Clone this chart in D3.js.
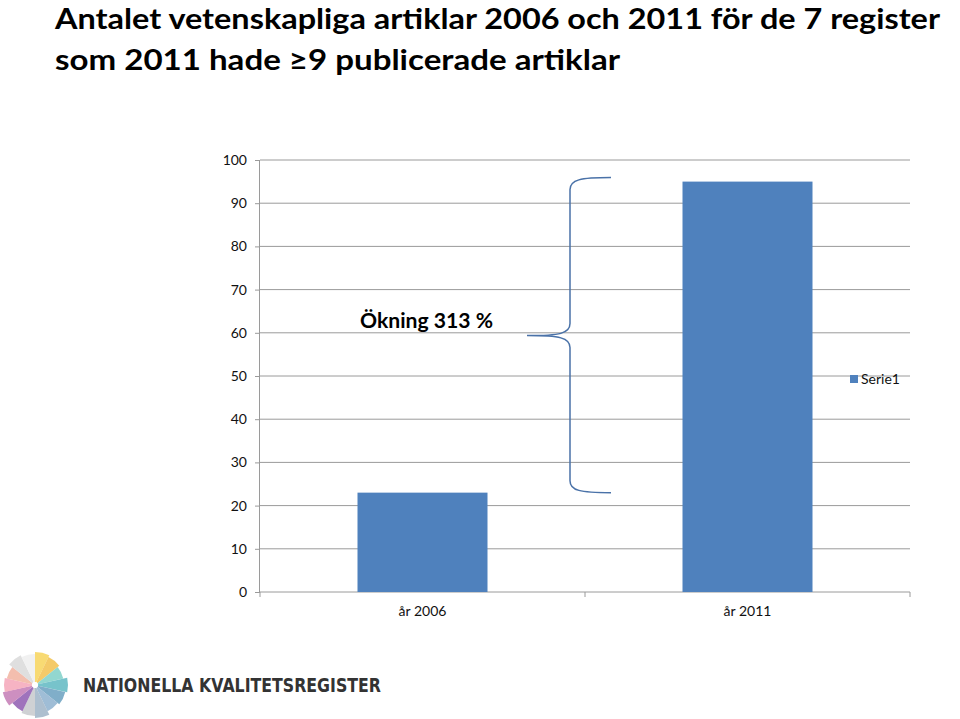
<!DOCTYPE html>
<html><head><meta charset="utf-8">
<script src="https://cdn.jsdelivr.net/npm/d3@7"></script>
<style>body{margin:0;background:#fff}svg{display:block}</style>
</head><body>
<script>
const categories = ["år 2006", "år 2011"];
const values = [23, 95];
const yTicks = [0,10,20,30,40,50,60,70,80,90,100];
const seriesName = "Serie1";
const titleLines = ["Antalet vetenskapliga artiklar 2006 och 2011 för de 7 register", "som 2011 hade ≥9 publicerade artiklar"];
const annotation = "Ökning 313 %";
const logoText = "NATIONELLA KVALITETSREGISTER";
const logoColors = ["#f7d35a","#f2c14e","#7fd0c8","#5fb8c2","#6aa0c0","#8eb2cf","#9fb4c7","#c7c9cc","#8e5bb0","#c47bb5","#f4a6b8","#f1b3a0","#d9d9d9","#eeeeee"];

const W = 960, H = 719;
const svg = d3.select("body").append("svg").attr("width", W).attr("height", H);
const font = "Lato, 'Open Sans', sans-serif";

// title
svg.selectAll("text.title").data(titleLines).enter().append("text")
  .attr("x", 55).attr("y", (d,i)=> 29 + i*41)
  .attr("font-family", font).attr("font-weight", "bold").attr("font-size", 28)
  .attr("fill", "#000")
  .attr("textLength", (d,i)=> i===0 ? 885 : 565).attr("lengthAdjust", "spacingAndGlyphs")
  .text(d=>d);

const x0 = 260, x1 = 910, yTop = 160, yBot = 592;
const y = d3.scaleLinear().domain([0,100]).range([yBot, yTop]);
const x = d3.scaleBand().domain(categories).range([x0, x1]).paddingInner(0.6).paddingOuter(0.3);
const xb = d3.scaleBand().domain(categories).range([x0, x1]).padding(0);

// gridlines
svg.append("g").selectAll("line").data(yTicks.filter(t=>t>0)).enter().append("line")
  .attr("x1", x0).attr("x2", x1).attr("y1", d=>y(d)).attr("y2", d=>y(d))
  .attr("stroke", "#9a9a9a").attr("stroke-width", 1);

// y axis
const yAxis = svg.append("g").attr("transform", `translate(${x0},0)`)
  .call(d3.axisLeft(y).tickValues(yTicks).tickSize(5).tickPadding(8));
yAxis.select(".domain").attr("stroke", "#9a9a9a").attr("d", `M-0.5,${yTop}V${yBot}`);
yAxis.selectAll(".tick line").attr("stroke", "#9a9a9a");
yAxis.selectAll("text").attr("font-family", font).attr("font-size", 14).attr("fill", "#111");

// x axis
const xAxisG = svg.append("g").attr("transform", `translate(0,${yBot})`);
xAxisG.append("line").attr("x1", x0).attr("x2", x1).attr("y1", 0).attr("y2", 0).attr("stroke", "#9a9a9a");
const bounds = [x0].concat(categories.map(c=>xb(c)+xb.bandwidth()));
xAxisG.selectAll("line.tk").data(bounds).enter().append("line")
  .attr("x1", d=>d).attr("x2", d=>d).attr("y1", 0).attr("y2", 5).attr("stroke", "#9a9a9a");
xAxisG.selectAll("text").data(categories).enter().append("text")
  .attr("x", d=>xb(d)+xb.bandwidth()/2).attr("y", 24).attr("text-anchor", "middle")
  .attr("font-family", font).attr("font-size", 14).attr("fill", "#111").text(d=>d);

// bars
svg.append("g").selectAll("rect").data(values).enter().append("rect")
  .attr("x", (d,i)=>x(categories[i])).attr("width", x.bandwidth())
  .attr("y", d=>y(d)).attr("height", d=>yBot - y(d))
  .attr("fill", "#4f81bd");

// legend
svg.append("rect").attr("x", 850).attr("y", 375).attr("width", 8).attr("height", 8).attr("fill", "#4f81bd");
svg.append("text").attr("x", 861).attr("y", 384).attr("font-family", font).attr("font-size", 14).attr("fill", "#111").text(seriesName);

// brace from 2006 value to 2011 value
const bTop = y(values[1]) - 4, bBot = y(values[0]);
const bMid = (bTop + bBot)/2 + 0.5;
const bx = 570, tipX = 527, endX = 611;
const p = d3.path();
p.moveTo(endX, bTop);
p.bezierCurveTo(bx+10, bTop, bx, bTop+2, bx, bTop+12);
p.lineTo(bx, bMid-12);
p.bezierCurveTo(bx, bMid-2, bx-10, bMid, tipX, bMid);
p.bezierCurveTo(bx-10, bMid, bx, bMid+2, bx, bMid+12);
p.lineTo(bx, bBot-12);
p.bezierCurveTo(bx, bBot-2, bx+10, bBot, endX, bBot);
svg.append("path").attr("d", p.toString()).attr("fill", "none").attr("stroke", "#4a72a8").attr("stroke-width", 1.5);

// annotation
svg.append("text").attr("x", 360).attr("y", 328)
  .attr("font-family", font).attr("font-weight", "bold").attr("font-size", 21).attr("fill", "#000")
  .attr("textLength", 133).attr("lengthAdjust", "spacingAndGlyphs")
  .text(annotation);

// logo
const cx = 35, cy = 685, r = 33;
const pie = d3.pie().sort(null).value(1)(logoColors.map((c,i)=>i));
const arc = d3.arc().innerRadius(3).outerRadius((d)=> r - (d.index%3)*2);
svg.append("g").attr("transform", `translate(${cx},${cy})`).selectAll("path").data(pie).enter().append("path")
  .attr("d", arc).attr("fill", (d,i)=>logoColors[i]).attr("opacity", 0.85);
svg.append("circle").attr("cx", cx).attr("cy", cy).attr("r", 3).attr("fill", "#fff");
svg.append("text").attr("x", 83).attr("y", 692)
  .attr("font-family", "'DejaVu Sans', sans-serif").attr("font-weight", "bold").attr("font-size", 19)
  .attr("fill", "#333").attr("textLength", 298).attr("lengthAdjust", "spacingAndGlyphs")
  .text(logoText);
</script>
</body></html>
